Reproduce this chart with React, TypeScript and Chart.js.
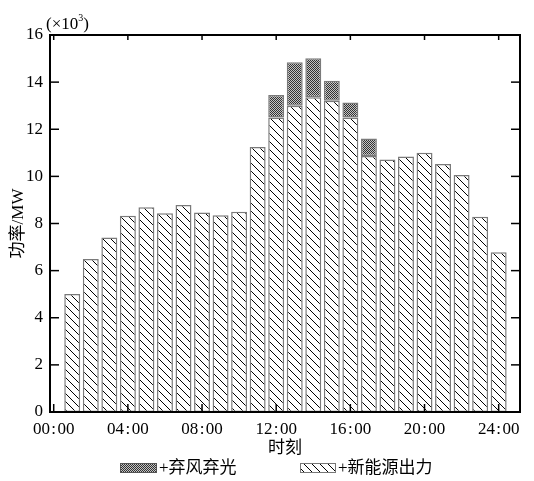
import { useEffect, useRef } from 'react';
import { Chart, registerables } from 'chart.js';
Chart.register(...registerables);

// ---- data ----
const hours = [1, 2, 3, 4, 5, 6, 7, 8, 9, 10, 11, 12, 13, 14, 15, 16, 17, 18, 19, 20, 21, 22, 23, 24];
const newEnergyOutput = [5.01, 6.49, 7.41, 8.33, 8.69, 8.43, 8.79, 8.47, 8.35, 8.5, 11.25, 12.5, 13.0, 13.36, 13.21, 12.5, 10.86, 10.72, 10.84, 11.0, 10.52, 10.06, 8.29, 6.78];
const curtailment = [null, null, null, null, null, null, null, null, null, null, null, 0.95, 1.84, 1.65, 0.85, 0.63, 0.75, null, null, null, null, null, null, null];
const xTickValues = [0, 4, 8, 12, 16, 20, 24];
const xTickLabels = ['00:00', '04:00', '08:00', '12:00', '16:00', '20:00', '24:00'];
const yTickValues = [0, 2, 4, 6, 8, 10, 12, 14, 16];
const seriesNames = ['+新能源出力', '+弃风弃光'];

const FONT = "'Liberation Serif', 'Times New Roman', 'Noto Sans CJK SC', serif";

function makeHatch(): CanvasPattern | string {
  const c = document.createElement('canvas');
  c.width = 8; c.height = 8;
  const g = c.getContext('2d');
  if (!g) return '#fff';
  g.fillStyle = '#fff';
  g.fillRect(0, 0, 8, 8);
  g.strokeStyle = '#000';
  g.lineWidth = 1;
  g.beginPath();
  g.moveTo(-1, -1); g.lineTo(9, 9);
  g.moveTo(-1, 7); g.lineTo(1, 9);
  g.moveTo(7, -1); g.lineTo(9, 1);
  g.stroke();
  return g.createPattern(c, 'repeat') || '#fff';
}

function makeDots(): CanvasPattern | string {
  const c = document.createElement('canvas');
  c.width = 2; c.height = 2;
  const g = c.getContext('2d');
  if (!g) return '#555';
  g.fillStyle = '#c4c4c4';
  g.fillRect(0, 0, 2, 2);
  g.fillStyle = '#333';
  g.fillRect(0, 0, 1, 1);
  g.fillRect(1, 1, 1, 1);
  return g.createPattern(c, 'repeat') || '#555';
}

export default function App() {
  const ref = useRef<HTMLCanvasElement | null>(null);

  useEffect(() => {
    if (!ref.current) return;
    const hatch = makeHatch();
    const dots = makeDots();

    const frameTicks = {
      id: 'frameTicks',
      afterDatasetsDraw(chart: any) {
        const { ctx, chartArea: a, scales } = chart;
        const x = scales.x, y = scales.y;
        ctx.save();
        ctx.strokeStyle = '#000';
        ctx.lineWidth = 1.5;
        const line = (x1: number, y1: number, x2: number, y2: number) => {
          ctx.beginPath(); ctx.moveTo(x1, y1); ctx.lineTo(x2, y2); ctx.stroke();
        };
        yTickValues.forEach((v) => {
          const py = y.getPixelForValue(v);
          line(a.left, py, a.left + 9, py);
          line(a.right, py, a.right - 9, py);
        });
        xTickValues.forEach((v) => {
          const px = x.getPixelForValue(v);
          line(px, a.bottom, px, a.bottom - 8);
          line(px, a.top, px, a.top + 5);
        });
        ctx.lineWidth = 2;
        ctx.strokeRect(a.left, a.top, a.right - a.left, a.bottom - a.top);
        ctx.restore();
      },
      afterDraw(chart: any) {
        const { ctx, chartArea: a } = chart;
        ctx.save();
        // unit label
        ctx.fillStyle = '#000';
        ctx.textBaseline = 'alphabetic';
        ctx.font = `17px ${FONT}`;
        const base = a.top - 6;
        let tx = a.left - 4;
        const t1 = '(×10';
        ctx.fillText(t1, tx, base);
        tx += ctx.measureText(t1).width;
        ctx.font = `10px ${FONT}`;
        ctx.fillText('3', tx, base - 8);
        tx += ctx.measureText('3').width;
        ctx.font = `17px ${FONT}`;
        ctx.fillText(')', tx, base);

        // legend
        const ly = 463, lh = 10;
        const items = [
          { fill: dots, x: 120, w: 37, text: seriesNames[1], stroke: '#555' },
          { fill: hatch, x: 300, w: 36, text: seriesNames[0], stroke: '#777' },
        ];
        ctx.textBaseline = 'middle';
        ctx.font = `17px ${FONT}`;
        items.forEach((it) => {
          ctx.fillStyle = it.fill as any;
          ctx.fillRect(it.x, ly, it.w, lh);
          ctx.strokeStyle = it.stroke;
          ctx.lineWidth = 1;
          ctx.strokeRect(it.x + 0.5, ly + 0.5, it.w - 1, lh - 1);
          ctx.fillStyle = '#000';
          ctx.fillText(it.text, it.x + it.w + 2, ly + lh / 2 + 1);
        });
        ctx.restore();
      },
    };

    const chart = new Chart(ref.current, {
      type: 'bar',
      data: {
        datasets: [
          {
            label: seriesNames[0],
            data: hours.map((h, i) => ({ x: h, y: newEnergyOutput[i] })),
            backgroundColor: hatch as any,
            borderColor: '#7a7a7a',
            borderWidth: 1.5,
            borderSkipped: false,
            categoryPercentage: 1,
            barPercentage: 0.86,
            stack: 's',
          },
          {
            label: seriesNames[1],
            data: hours.map((h, i) => ({ x: h, y: curtailment[i] as any })),
            backgroundColor: dots as any,
            borderColor: '#7a7a7a',
            borderWidth: 1.5,
            borderSkipped: false,
            categoryPercentage: 1,
            barPercentage: 0.86,
            stack: 's',
          },
        ],
      },
      options: {
        animation: false,
        responsive: true,
        maintainAspectRatio: false,
        layout: { padding: { top: 35, right: 14, left: 0, bottom: 0 } },
        plugins: { legend: { display: false }, tooltip: { enabled: false } },
        scales: {
          x: {
            type: 'linear',
            stacked: true,
            offset: false,
            min: -0.2,
            max: 25.15,
            afterBuildTicks: (s: any) => { s.ticks = xTickValues.map((v) => ({ value: v })); },
            afterFit: (s: any) => { s.height = 69; },
            grid: { display: false, drawTicks: false, offset: false },
            border: { display: false },
            ticks: {
              autoSkip: false,
              maxRotation: 0,
              padding: 7,
              color: '#000',
              font: { size: 17, family: FONT },
              callback: (_v: any, i: number) => xTickLabels[i].replace(':', '\u200a:\u200a'),
            },
            title: {
              display: true,
              text: '时刻',
              color: '#000',
              font: { size: 17, family: FONT },
              padding: { top: 0, bottom: 22 },
            },
          },
          y: {
            stacked: true,
            min: 0,
            max: 16,
            afterBuildTicks: (s: any) => { s.ticks = yTickValues.map((v) => ({ value: v })); },
            afterFit: (s: any) => { s.width = 50; },
            grid: { display: false, drawTicks: false },
            border: { display: false },
            ticks: {
              padding: 7,
              color: '#000',
              font: { size: 17, family: FONT },
            },
            title: {
              display: true,
              text: '功率/MW',
              color: '#000',
              font: { size: 17, family: FONT },
              padding: { top: 8, bottom: 0 },
            },
          },
        },
      },
      plugins: [frameTicks],
    } as any);
    return () => chart.destroy();
  }, []);

  return (
    <div style={{ position: 'absolute', left: 0, top: 0, width: 534, height: 481, background: '#fff' }}>
      <canvas ref={ref} />
    </div>
  );
}
